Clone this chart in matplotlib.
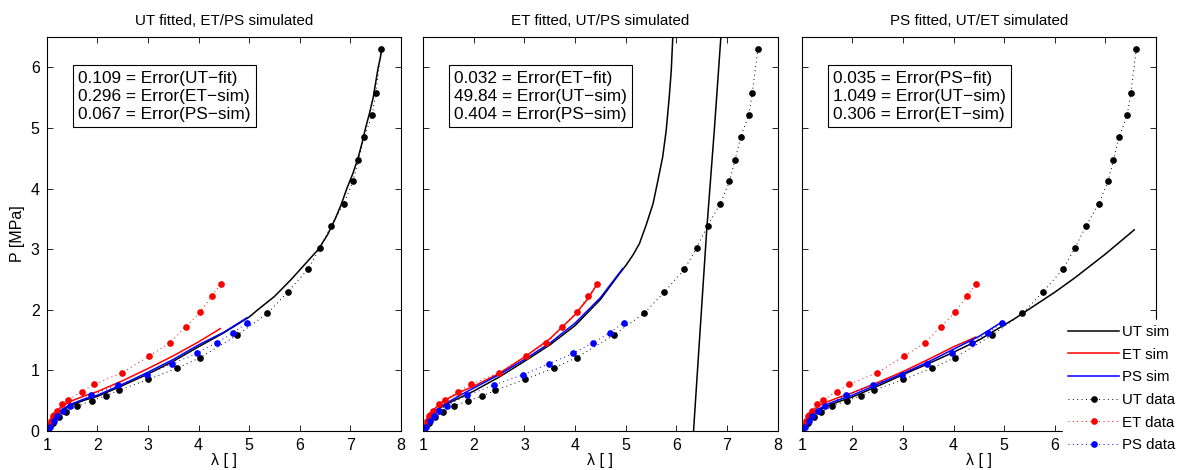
import matplotlib
matplotlib.use('Agg')
import matplotlib.pyplot as plt

plt.rcParams['font.family'] = ['Liberation Sans', 'DejaVu Sans']

# Treloar test data: stretch [-] and nominal stress [MPa]
ut_lam = [1.0, 1.02, 1.12, 1.24, 1.39, 1.6, 1.89, 2.17, 2.42, 3.01, 3.58, 4.03, 4.76,
          5.36, 5.76, 6.16, 6.4, 6.62, 6.87, 7.05, 7.16, 7.27, 7.43, 7.5, 7.61]
ut_p = [0.0, 0.03, 0.14, 0.23, 0.32, 0.41, 0.5, 0.58, 0.67, 0.85, 1.04, 1.21, 1.58,
        1.94, 2.29, 2.67, 3.02, 3.39, 3.75, 4.12, 4.47, 4.85, 5.21, 5.57, 6.3]
et_lam = [1.0, 1.04, 1.08, 1.12, 1.14, 1.2, 1.31, 1.42, 1.69, 1.94, 2.49, 3.03,
          3.43, 3.75, 4.03, 4.26, 4.44]
et_p = [0.0, 0.09, 0.16, 0.24, 0.26, 0.33, 0.44, 0.51, 0.65, 0.77, 0.96, 1.24,
        1.45, 1.72, 1.96, 2.22, 2.43]
ps_lam = [1.0, 1.06, 1.14, 1.21, 1.32, 1.46, 1.87, 2.4, 2.98, 3.48, 3.96, 4.36, 4.69, 4.96]
ps_p = [0.0, 0.07, 0.16, 0.24, 0.33, 0.42, 0.59, 0.76, 0.93, 1.11, 1.28, 1.46, 1.62, 1.79]

# model response, UT fit
fitut_ut_lam = [1.0, 1.05, 1.1, 1.2, 1.35, 1.5, 1.75, 2.0, 2.5, 3.0, 3.5, 4.0, 4.5, 5.0,
                5.17, 5.5, 5.83, 6.1, 6.37, 6.55, 6.7, 6.82, 6.93, 7.05, 7.15, 7.23,
                7.3, 7.38, 7.45, 7.5, 7.55, 7.59, 7.62]
fitut_ut_p = [0.0, 0.1, 0.17, 0.27, 0.36, 0.43, 0.51, 0.57, 0.75, 0.94, 1.15, 1.39, 1.62, 1.88,
              2.0, 2.22, 2.5, 2.75, 3.0, 3.24, 3.5, 3.74, 4.0, 4.25, 4.5, 4.75,
              5.0, 5.25, 5.5, 5.75, 6.0, 6.15, 6.3]
fitut_et_lam = [1.0, 1.04, 1.1, 1.2, 1.35, 1.5, 1.75, 2.0, 2.5, 3.0, 3.5, 4.0, 4.43]
fitut_et_p = [0.0, 0.12, 0.22, 0.33, 0.43, 0.5, 0.58, 0.65, 0.83, 1.03, 1.24, 1.47, 1.69]
fitut_ps_lam = [1.0, 1.05, 1.1, 1.2, 1.35, 1.5, 1.75, 2.0, 2.5, 3.0, 3.5, 4.0, 4.5, 4.96]
fitut_ps_p = [0.0, 0.11, 0.19, 0.29, 0.38, 0.45, 0.53, 0.59, 0.77, 0.97, 1.18, 1.42, 1.63, 1.87]

# model response, ET fit (UT branch runs past the locking stretch)
fitet_ut_lam = [1.0, 1.05, 1.1, 1.2, 1.35, 1.5, 1.75, 2.0, 2.5, 3.0, 3.5, 4.0, 4.5, 4.88,
                5.01, 5.14, 5.27, 5.4, 5.54, 5.63, 5.73, 5.8, 5.86, 5.9, 5.93, 5.95]
fitet_ut_p = [0.0, 0.1, 0.18, 0.29, 0.39, 0.46, 0.56, 0.66, 0.89, 1.15, 1.42, 1.74, 2.17, 2.6,
              2.74, 2.9, 3.09, 3.39, 3.75, 4.11, 4.52, 4.96, 5.51, 5.95, 6.5, 6.9]
fitet_ut2_lam = [6.32, 6.34, 6.47, 6.6, 6.75, 6.88, 6.9]
fitet_ut2_p = [-0.3, 0.0, 1.66, 3.31, 4.96, 6.5, 6.8]
fitet_et_lam = [1.0, 1.04, 1.1, 1.2, 1.35, 1.5, 1.75, 2.0, 2.5, 3.0, 3.5, 4.0, 4.25, 4.44]
fitet_et_p = [0.0, 0.12, 0.24, 0.35, 0.46, 0.54, 0.65, 0.74, 0.95, 1.22, 1.52, 1.92, 2.18, 2.43]
fitet_ps_lam = [1.0, 1.05, 1.1, 1.2, 1.35, 1.5, 1.75, 2.0, 2.5, 3.0, 3.5, 4.0, 4.5, 4.94]
fitet_ps_p = [0.0, 0.11, 0.2, 0.31, 0.41, 0.48, 0.6, 0.71, 0.93, 1.18, 1.45, 1.78, 2.2, 2.68]

# model response, PS fit
fitps_ut_lam = [1.0, 1.05, 1.1, 1.2, 1.35, 1.5, 1.75, 2.0, 2.5, 3.0, 3.5, 4.0, 4.5, 5.0,
                5.2, 5.4, 5.6, 5.8, 6.0, 6.2, 6.4, 6.6, 6.8, 7.0, 7.2, 7.4, 7.57]
fitps_ut_p = [0.0, 0.09, 0.16, 0.26, 0.35, 0.41, 0.49, 0.56, 0.74, 0.93, 1.11, 1.3, 1.5, 1.75,
              1.85, 1.96, 2.07, 2.18, 2.29, 2.41, 2.53, 2.66, 2.79, 2.92, 3.06, 3.2, 3.32]
fitps_et_lam = [1.0, 1.04, 1.1, 1.2, 1.35, 1.5, 1.75, 2.0, 2.5, 3.0, 3.5, 4.0, 4.44]
fitps_et_p = [0.0, 0.11, 0.21, 0.32, 0.42, 0.48, 0.56, 0.63, 0.8, 0.98, 1.18, 1.39, 1.55]
fitps_ps_lam = [1.0, 1.05, 1.1, 1.2, 1.35, 1.5, 1.75, 2.0, 2.5, 3.0, 3.5, 4.0, 4.5, 4.96]
fitps_ps_p = [0.0, 0.1, 0.18, 0.28, 0.37, 0.44, 0.52, 0.59, 0.77, 0.95, 1.14, 1.35, 1.56, 1.8]

titles = ['UT fitted, ET/PS simulated', 'ET fitted, UT/PS simulated', 'PS fitted, UT/ET simulated']
error_texts = [
    '0.109 = Error(UT\u2212fit)\n0.296 = Error(ET\u2212sim)\n0.067 = Error(PS\u2212sim)',
    '0.032 = Error(ET\u2212fit)\n49.84 = Error(UT\u2212sim)\n0.404 = Error(PS\u2212sim)',
    '0.035 = Error(PS\u2212fit)\n1.049 = Error(UT\u2212sim)\n0.306 = Error(ET\u2212sim)',
]

sims = [
    [(fitut_ut_lam, fitut_ut_p)],
    [(fitet_ut_lam, fitet_ut_p), (fitet_ut2_lam, fitet_ut2_p)],
    [(fitps_ut_lam, fitps_ut_p)],
]
sims_et = [(fitut_et_lam, fitut_et_p), (fitet_et_lam, fitet_et_p), (fitps_et_lam, fitps_et_p)]
sims_ps = [(fitut_ps_lam, fitut_ps_p), (fitet_ps_lam, fitet_ps_p), (fitps_ps_lam, fitps_ps_p)]

fig = plt.figure(figsize=(11.79, 4.70), dpi=100)
lefts = [0.0396, 0.3590, 0.6800]
dots = (0, (1, 3.5))

for i in range(3):
    ax = fig.add_axes([lefts[i], 0.083, 0.3005, 0.838])
    for lam, p in sims[i]:
        h_ut, = ax.plot(lam, p, color='k', lw=1.1, label='UT sim')
    h_et, = ax.plot(*sims_et[i], color='r', lw=1.1, label='ET sim')
    h_ps, = ax.plot(*sims_ps[i], color='b', lw=1.1, label='PS sim')
    d_ut, = ax.plot(ut_lam, ut_p, linestyle=dots, color='k', lw=0.7, marker='o', ms=3.8, label='UT data')
    d_et, = ax.plot(et_lam, et_p, linestyle=dots, color='r', lw=0.7, marker='o', ms=3.8, label='ET data')
    d_ps, = ax.plot(ps_lam, ps_p, linestyle=dots, color='b', lw=0.7, marker='o', ms=3.8, label='PS data')

    ax.set_xlim(1, 8)
    ax.set_ylim(0, 6.5)
    ax.set_xticks(range(1, 9))
    ax.set_yticks(range(0, 7))
    if i > 0:
        ax.set_yticklabels([])
    if i == 2:
        # the legend sits over the last two ticks of this panel
        ax.set_xticklabels(['1', '2', '3', '4', '5', '6', '', ''])
    ax.tick_params(direction='in', top=True, right=True, length=4, width=0.6,
                   labelsize=11.5, pad=5)
    for spine in ax.spines.values():
        spine.set_linewidth(0.8)
    ax.set_title(titles[i], fontsize=10.9, pad=9)
    ax.set_xlabel('\u03bb [ ]', fontsize=11.5, labelpad=0)
    if i == 0:
        ax.set_ylabel('P [MPa]', fontsize=11.5, labelpad=4)

    ax.text(0.088, 0.915, error_texts[i], transform=ax.transAxes, fontsize=12.4,
            va='top', ha='left', linespacing=1.25,
            bbox=dict(boxstyle='square,pad=0.3', facecolor='white', edgecolor='k', linewidth=0.8))

handles = [h_ut, h_et, h_ps, d_ut, d_et, d_ps]
leg = fig.legend(handles, [h.get_label() for h in handles], loc='lower right',
                 bbox_to_anchor=(1.004, 0.02), fontsize=10.8, numpoints=1,
                 handlelength=3.4, handletextpad=0.2, labelspacing=0.58,
                 fancybox=False, framealpha=1, borderpad=0.35, borderaxespad=0.2)
leg.get_frame().set_edgecolor('white')
leg.get_frame().set_facecolor('white')

fig.savefig('out.png', dpi=100, facecolor='white')
